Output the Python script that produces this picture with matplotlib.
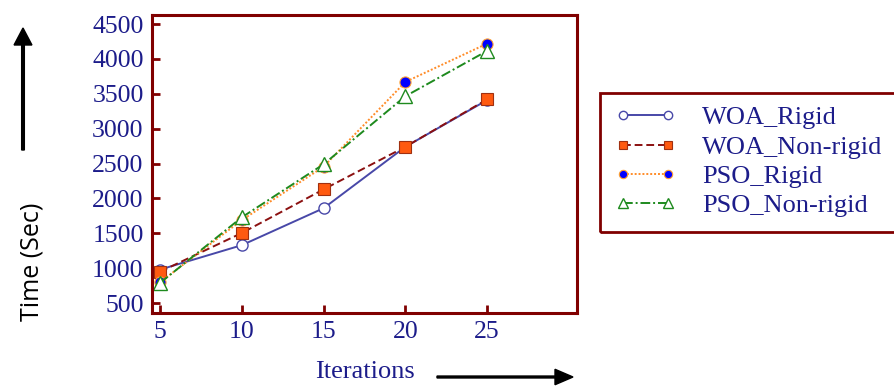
import matplotlib
matplotlib.use("Agg")
import matplotlib.pyplot as plt
from matplotlib.patches import Rectangle, FancyArrow

iterations = [5, 10, 15, 20, 25]
woa_rigid = [980, 1330, 1860, 2740, 3410]
woa_nonrigid = [950, 1505, 2130, 2740, 3420]
pso_rigid = [800, 1690, 2455, 3670, 4220]
pso_nonrigid = [790, 1730, 2490, 3465, 4115]
yticks = [500, 1000, 1500, 2000, 2500, 3000, 3500, 4000, 4500]
xticks = [5, 10, 15, 20, 25]
labels = ["WOA_Rigid", "WOA_Non-rigid", "PSO_Rigid", "PSO_Non-rigid"]

W, H = 894, 386
fig = plt.figure(figsize=(W / 100, H / 100), dpi=100)
ax = fig.add_axes([152 / W, 1 - 313 / H, (577 - 152) / W, (313 - 15) / H])

serif = "Liberation Serif"
navy = "#1c1c8a"
maroon = "#800000"

ax.plot(iterations, woa_rigid, color="#4848a8", lw=1.4, ls="-", marker="o",
        ms=8, mfc="white", mec="#4848a8", mew=1.0, label=labels[0])
ax.plot(iterations, woa_nonrigid, color="#8b1010", lw=1.4, ls=(0, (4, 2)), marker="s",
        ms=8, mfc="#ff5a10", mec="#a03010", mew=0.8, label=labels[1])
ax.plot(iterations, pso_rigid, color="#ff8c28", lw=1.4, ls=(0, (1, 1)), marker="o",
        ms=8, mfc="#0000ff", mec="#ffa030", mew=0.8, label=labels[2])
ax.plot(iterations, pso_nonrigid, color="#1e8a1e", lw=1.4, ls=(0, (5, 1.5, 1, 1.5)), marker="^",
        ms=10, mfc="white", mec="#1e8a1e", mew=1.0, label=labels[3])

ax.set_xlim(4.5, 30.5)
ax.set_ylim(357, 4630)
ax.set_xticks(xticks)
ax.set_yticks(yticks)
ax.tick_params(direction="in", length=6, width=2, color=maroon, labelcolor=navy,
               labelsize=18.5, pad=6)
for lab in ax.get_xticklabels() + ax.get_yticklabels():
    lab.set_fontfamily(serif)
for s in ax.spines.values():
    s.set_color(maroon)
    s.set_linewidth(2.2)

leg = fig.legend(loc="upper left", bbox_to_anchor=(615 / W, 1 - 106 / H),
                 frameon=False, prop={"family": serif, "size": 19},
                 handlelength=2.3, handletextpad=1.0, labelspacing=0.22,
                 borderpad=0, borderaxespad=0, numpoints=2, markerscale=0.75)
for t in leg.get_texts():
    t.set_color(navy)
fig.patches.append(Rectangle((600 / W, 1 - 232 / H), 300 / W, (232 - 93) / H,
                             transform=fig.transFigure, fill=False,
                             edgecolor=maroon, linewidth=2))

fig.text(365 / W, 1 - 372 / H, "Iterations", family=serif, size=19, color=navy,
         ha="center", va="center")
fig.text(32 / W, 1 - 262 / H, "Time (Sec)", family="Open Sans", size=18, color="black",
         rotation=90, ha="center", va="center")

fig.patches.append(FancyArrow(
    437 / W, 1 - 377 / H, 118 / W, 0, width=0.005, head_width=0.04, head_length=18 / W,
    length_includes_head=False, transform=fig.transFigure, color="black"))
fig.patches.append(FancyArrow(
    23 / W, 1 - 150 / H, 0, 105 / H, width=0.003, head_width=0.02, head_length=17 / H,
    length_includes_head=False, transform=fig.transFigure, color="black"))

fig.savefig("out.png", dpi=100)
